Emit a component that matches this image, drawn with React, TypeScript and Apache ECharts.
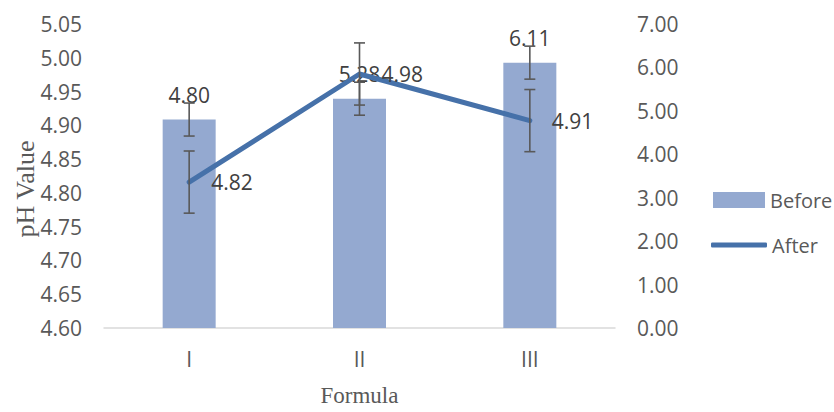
import React, { useEffect, useRef } from "react";
import * as echarts from "echarts";

const categories = ["I", "II", "III"];
const beforeValues = [4.8, 5.28, 6.11];
const beforeErr = [0.38, 0.38, 0.38];
const afterValues = [4.816, 4.976, 4.907];
const afterLabels = ["4.82", "4.98", "4.91"];
const afterErr = [0.046, 0.046, 0.046];
const leftTicks = { min: 4.6, max: 5.05, interval: 0.05 };
const rightTicks = { min: 0, max: 7, interval: 1 };

const FONT = "'Open Sans', sans-serif";
const SERIF = "'Liberation Serif', 'Times New Roman', serif";
const TICK = "#595959";
const LABEL = "#404040";
const LINE_COLOR = "#4671A9";

function errorRender(params: any, api: any) {
  const idx = api.value(0);
  const lo = api.coord([idx, api.value(1)]);
  const hi = api.coord([idx, api.value(2)]);
  const cap = 5.5;
  const style = { stroke: "#595959", lineWidth: 1.6 };
  return {
    type: "group",
    children: [
      { type: "line", shape: { x1: lo[0], y1: lo[1], x2: hi[0], y2: hi[1] }, style },
      { type: "line", shape: { x1: lo[0] - cap, y1: lo[1], x2: lo[0] + cap, y2: lo[1] }, style },
      { type: "line", shape: { x1: hi[0] - cap, y1: hi[1], x2: hi[0] + cap, y2: hi[1] }, style },
    ],
  };
}

export default function App() {
  const ref = useRef<HTMLDivElement>(null);
  useEffect(() => {
    if (!ref.current) return;
    const chart = echarts.init(ref.current, null, { renderer: "svg" });
    const beforeErrData = categories.map((_, i) => [i, beforeValues[i] - beforeErr[i], beforeValues[i] + beforeErr[i]]);
    const afterErrData = categories.map((_, i) => [i, afterValues[i] - afterErr[i], afterValues[i] + afterErr[i]]);
    chart.setOption({
      animation: false,
      backgroundColor: "#ffffff",
      grid: { left: 104, right: 219, top: 24, bottom: 78, containLabel: false },
      legend: [
        {
          data: [{ name: "Before", icon: "rect" }],
          left: 708,
          top: 185,
          itemWidth: 52,
          itemHeight: 16,
          itemGap: 4,
          textStyle: { fontFamily: FONT, fontSize: 20, color: TICK },
        },
        {
          data: [{ name: "After", icon: "roundRect" }],
          left: 706,
          top: 230,
          itemWidth: 56,
          itemHeight: 5,
          itemStyle: { color: LINE_COLOR },
          textStyle: { fontFamily: FONT, fontSize: 20, color: TICK },
        },
      ],
      xAxis: {
        type: "category",
        data: categories,
        boundaryGap: true,
        axisTick: { show: false },
        axisLine: { show: true, lineStyle: { color: "#D9D9D9", width: 1.5 } },
        axisLabel: { fontFamily: FONT, fontSize: 21, color: TICK, margin: 20 },
        name: "Formula",
        nameLocation: "middle",
        nameGap: 56,
        nameTextStyle: { fontFamily: SERIF, fontSize: 23, color: TICK },
      },
      yAxis: [
        {
          type: "value",
          min: leftTicks.min,
          max: leftTicks.max,
          interval: leftTicks.interval,
          splitLine: { show: false },
          axisLine: { show: false },
          axisTick: { show: false },
          axisLabel: {
            fontFamily: FONT,
            fontSize: 21,
            color: TICK,
            margin: 22,
            formatter: (v: number) => v.toFixed(2),
          },
        },
        {
          type: "value",
          position: "right",
          min: rightTicks.min,
          max: rightTicks.max,
          interval: rightTicks.interval,
          splitLine: { show: false },
          axisLine: { show: false },
          axisTick: { show: false },
          axisLabel: {
            fontFamily: FONT,
            fontSize: 21,
            color: TICK,
            margin: 22,
            formatter: (v: number) => v.toFixed(2),
          },
        },
      ],
      graphic: [
        {
          type: "text",
          x: 25,
          y: 189,
          rotation: Math.PI / 2,
          style: {
            text: "pH Value",
            fontFamily: SERIF,
            fontSize: 26,
            fill: TICK,
            textAlign: "center",
            textVerticalAlign: "middle",
          },
        },
      ],
      series: [
        {
          name: "Before",
          type: "bar",
          yAxisIndex: 1,
          data: beforeValues,
          barWidth: 53,
          itemStyle: { color: "#94A9D0" },
          label: {
            show: true,
            position: "top",
            distance: 14,
            fontFamily: FONT,
            fontSize: 21,
            color: LABEL,
            formatter: (p: any) => p.value.toFixed(2),
          },
          z: 1,
        },
        {
          name: "After",
          type: "line",
          yAxisIndex: 0,
          data: afterValues,
          symbol: "circle",
          symbolSize: 4,
          showSymbol: true,
          lineStyle: { color: LINE_COLOR, width: 5, cap: "round", join: "round" },
          itemStyle: { color: LINE_COLOR },
          label: {
            show: true,
            position: "right",
            distance: 20,
            fontFamily: FONT,
            fontSize: 21,
            color: LABEL,
            formatter: (p: any) => afterLabels[p.dataIndex],
          },
          z: 3,
        },
        {
          name: "BeforeErr",
          type: "custom",
          yAxisIndex: 1,
          data: beforeErrData,
          renderItem: errorRender,
          z: 4,
          silent: true,
        },
        {
          name: "AfterErr",
          type: "custom",
          yAxisIndex: 0,
          data: afterErrData,
          renderItem: errorRender,
          z: 4,
          silent: true,
        },
      ],
    });
    return () => chart.dispose();
  }, []);
  return (
    <div
      ref={ref}
      style={{ position: "absolute", left: 0, top: 0, width: 834, height: 412, background: "#fff" }}
    />
  );
}
